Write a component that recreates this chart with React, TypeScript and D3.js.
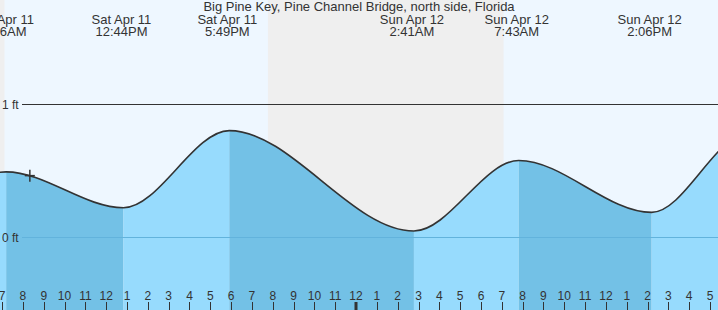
import React from "react";
import * as d3 from "d3";

const W = 718;
const H = 310;

const title = "Big Pine Key, Pine Channel Bridge, north side, Florida";

// Tide extremes (local time) and heights in ft
const tideTimes = [
  "2026-04-10T18:40",
  "2026-04-11T00:50",
  "2026-04-11T07:06",
  "2026-04-11T12:44",
  "2026-04-11T17:49",
  "2026-04-12T02:41",
  "2026-04-12T07:43",
  "2026-04-12T14:06",
  "2026-04-12T18:45",
  "2026-04-13T03:30",
];
const tideHeights = [0.75, 0.0, 0.49, 0.22, 0.8, 0.045, 0.575, 0.185, 0.78, 0.05];

// Event labels at the top
const eventTimes = [
  "2026-04-11T07:06",
  "2026-04-11T12:44",
  "2026-04-11T17:49",
  "2026-04-12T02:41",
  "2026-04-12T07:43",
  "2026-04-12T14:06",
];
const eventDays = ["Sat Apr 11", "Sat Apr 11", "Sat Apr 11", "Sun Apr 12", "Sun Apr 12", "Sun Apr 12"];
const eventLabels = ["7:06AM", "12:44PM", "5:49PM", "2:41AM", "7:43AM", "2:06PM"];

// Night periods (sunset -> sunrise)
const nightStarts = ["2026-04-10T19:46", "2026-04-11T19:46"];
const nightEnds = ["2026-04-11T07:07", "2026-04-12T07:05"];

const nowTime = "2026-04-11T08:20";

const yTicks = [0, 1];
const domainStart = "2026-04-11T06:54";
const domainEnd = "2026-04-12T17:23";

const parse = (s: string) => {
  const [d, t] = s.split("T");
  const [Y, M, D] = d.split("-").map(Number);
  const [h, m] = t.split(":").map(Number);
  return new Date(Y, M - 1, D, h, m);
};

const FONT = "'Liberation Sans', Arial, sans-serif";

export default function App() {
  const x = d3.scaleTime().domain([parse(domainStart), parse(domainEnd)]).range([0, W]);
  const y = d3.scaleLinear().domain([0, 1]).range([237, 104]);
  const shift = 2; // curve drawn slightly right of the label anchors, as in the source

  const pts = tideTimes.map((t, i) => ({ t: parse(t), v: tideHeights[i] }));

  const line = d3
    .line<{ t: Date; v: number }>()
    .x((d) => x(d.t) + shift)
    .y((d) => y(d.v))
    .curve(d3.curveMonotoneX);
  const area = d3
    .area<{ t: Date; v: number }>()
    .x((d) => x(d.t) + shift)
    .y0(H)
    .y1((d) => y(d.v))
    .curve(d3.curveMonotoneX);

  const nt = parse(nowTime);
  const mx = x(nt);
  let markY = y(tideHeights[2]);
  for (let i = 0; i < pts.length - 1; i++) {
    const a = x(pts[i].t) + shift;
    const b = x(pts[i + 1].t) + shift;
    if (mx >= a && mx <= b) {
      const f = (mx - a) / (b - a);
      const s = 3 * f * f - 2 * f * f * f;
      markY = y(pts[i].v + (pts[i + 1].v - pts[i].v) * s);
    }
  }

  const hours = d3.timeHour.range(parse(domainStart), parse(domainEnd));
  const fmt = d3.timeFormat("%-I");

  const light = "#97dbfd";
  const dark = "#73c1e6";

  return (
    <svg
      width={W}
      height={H}
      style={{ position: "absolute", left: 0, top: 0, display: "block" }}
      fontFamily={FONT}
    >
      <defs>
        <clipPath id="water">
          <path d={area(pts) || ""} />
        </clipPath>
        <clipPath id="plot">
          <rect x={0} y={0} width={W} height={H} />
        </clipPath>
      </defs>
      <rect x={0} y={0} width={W} height={H} fill="#eef7ff" />
      {nightStarts.map((s, i) => (
        <rect
          key={"n" + i}
          x={Math.max(0, x(parse(s)))}
          y={0}
          width={x(parse(nightEnds[i])) - Math.max(0, x(parse(s)))}
          height={H}
          fill="#efefef"
        />
      ))}
      <g clipPath="url(#plot)">
        <g clipPath="url(#water)">
          {pts.slice(0, -1).map((p, i) => {
            const rising = pts[i + 1].v > p.v;
            const x0 = x(p.t) + shift;
            const x1 = x(pts[i + 1].t) + shift;
            return (
              <rect key={"w" + i} x={x0} y={0} width={x1 - x0} height={H} fill={rising ? light : dark} />
            );
          })}
        </g>
        <path d={line(pts) || ""} fill="none" stroke="#333" strokeWidth={1.6} />
      </g>

      {/* y gridlines */}
      <line x1={22} x2={W} y1={y(1) + 0.5} y2={y(1) + 0.5} stroke="#333" strokeWidth={1} />
      <line x1={22} x2={W} y1={y(0) + 0.5} y2={y(0) + 0.5} stroke="#62b3dc" strokeWidth={1} />
      {yTicks.map((v) => (
        <text key={"yt" + v} x={2} y={y(v) + 4.5} fontSize={12} fill="#333">
          {v + " ft"}
        </text>
      ))}

      {/* current time marker */}
      <line x1={mx - 5} x2={mx + 5} y1={markY} y2={markY} stroke="#333" strokeWidth={1.5} />
      <line x1={mx} x2={mx} y1={markY - 6} y2={markY + 6} stroke="#333" strokeWidth={1.5} />

      {/* title */}
      <text x={W / 2} y={11} textAnchor="middle" fontSize={13} fill="#333">
        {title}
      </text>

      {/* events */}
      {eventTimes.map((t, i) => (
        <g key={"e" + i} transform={`translate(${x(parse(t))},0)`} fill="#333" fontSize={13} textAnchor="middle">
          <text y={24}>{eventDays[i]}</text>
          <text y={36}>{eventLabels[i]}</text>
        </g>
      ))}

      {/* hour axis */}
      {hours.map((h, i) => {
        const hx = x(h);
        const mid = h.getHours() === 0;
        return (
          <g key={"h" + i}>
            <text x={hx} y={300} textAnchor="middle" fontSize={12} fill="#333">
              {fmt(h)}
            </text>
            <line
              x1={Math.round(hx) + (mid ? 0 : 0.5)}
              x2={Math.round(hx) + (mid ? 0 : 0.5)}
              y1={302}
              y2={H}
              stroke="#333"
              strokeWidth={mid ? 3 : 1}
            />
          </g>
        );
      })}
    </svg>
  );
}
